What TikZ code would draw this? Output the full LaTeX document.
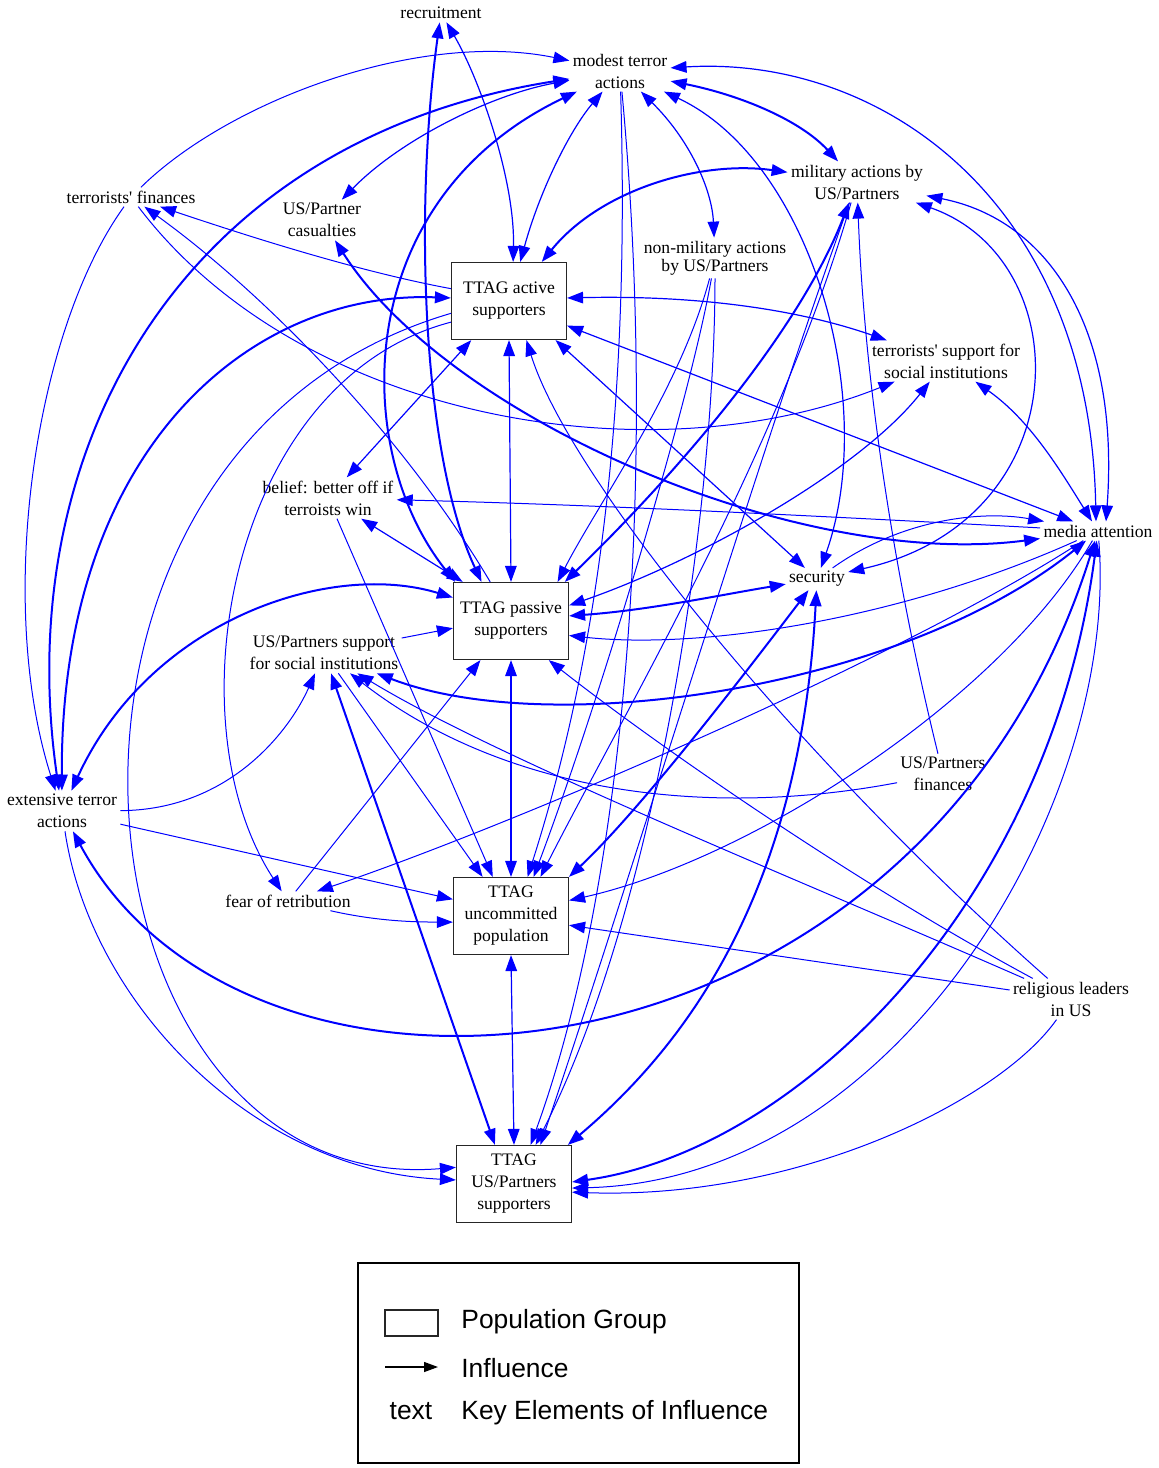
\documentclass[tikz,border=0pt]{standalone}
\usepackage{fontspec}
\setmainfont{Liberation Serif}
\newfontfamily\legendfont{Liberation Sans}
\usetikzlibrary{arrows.meta}

\tikzset{
  elem/.style={align=center, inner sep=1.5pt, font=\fontsize{8.8}{11}\selectfont},
  group/.style={elem, draw=black!85, line width=0.6pt, minimum width=57.5pt, minimum height=38.5pt, inner sep=0pt},
  infl/.style={draw=blue, line width=0.5pt, -{Triangle[length=8pt,width=5.8pt]}},
  mutual/.style={draw=blue, line width=0.6pt, {Triangle[length=8pt,width=5.8pt]}-{Triangle[length=8pt,width=5.8pt]}},
  heavy/.style={line width=1pt},
  lgtext/.style={inner sep=0pt, font=\legendfont\fontsize{13.2}{15}\selectfont}
}

\begin{document}
\begin{tikzpicture}[x=0.5pt,y=-0.5pt]
\useasboundingbox (0,0) rectangle (1159,1468);

% key elements of influence
\node[elem] (recruit) at (441,13) {recruitment};
\node[elem] (modest) at (620,71) {modest terror\\actions};
\node[elem] (milus) at (857,182) {military actions by\\US/Partners};
\node[elem] (tfin) at (131,197) {terrorists\textquotesingle{} finances};
\node[elem] (casual) at (322,220) {US/Partner\\casualties};
\node[elem] (nonmil) at (715,258) {non-military actions\\[-2pt]by US/Partners};
\node[elem] (tsoc) at (946,361) {terrorists\textquotesingle{} support for\\social institutions};
\node[elem] (belief) at (328,498) {belief: better off if\\terroists win};
\node[elem] (media) at (1098,531) {media attention};
\node[elem] (secur) at (817,579) {security};
\node[elem] (ussoc) at (324,653) {US/Partners support\\for social institutions};
\node[elem] (usfin) at (943,774) {US/Partners\\finances};
\node[elem] (ext) at (62,811) {extensive terror\\actions};
\node[elem] (fear) at (288,901) {fear of retribution};
\node[elem] (relig) at (1071,999) {religious leaders\\in US};

% population groups
\node[group] (active) at (509,301) {TTAG active\\supporters};
\node[group] (passive) at (511,621) {TTAG passive\\supporters};
\node[group] (uncomm) at (511,916) {TTAG\\uncommitted\\population};
\node[group] (ussup) at (514,1184) {TTAG\\US/Partners\\supporters};

% influences
\draw[infl] (tfin) .. controls (230,100) and (420,30) .. (modest);
\draw[mutual,heavy] (ext) .. controls (10,450) and (180,140) .. (modest);
\draw[mutual] (casual) .. controls (400,140) and (490,95) .. (modest);
\draw[mutual,heavy] (passive.145) .. controls (350,450) and (350,200) .. (modest);
\draw[mutual] (active.74) .. controls (540,190) and (570,130) .. (modest);
\draw[mutual,heavy] (recruit) .. controls (415,200) and (420,450) .. (passive.127);
\draw[mutual] (recruit) .. controls (480,80) and (515,180) .. (active.84);
\draw[infl] (modest) .. controls (630,400) and (600,650) .. (uncomm.67);
\draw[infl] (modest) .. controls (660,500) and (620,900) .. (ussup.67);
\draw[mutual] (modest) .. controls (690,140) and (712,190) .. (nonmil);
\draw[mutual] (modest) .. controls (810,160) and (880,400) .. (secur);
\draw[mutual,heavy] (modest) .. controls (740,95) and (800,120) .. (milus);
\draw[mutual] (modest) .. controls (880,55) and (1090,200) .. ([xshift=-1pt]media.north);

\draw[mutual,heavy] (active.50) .. controls (600,190) and (700,160) .. (milus);
\draw[mutual] (milus) .. controls (1050,220) and (1120,330) .. ([xshift=4pt]media.north);
\draw[mutual] (milus) .. controls (1080,260) and (1080,520) .. (secur);
\draw[mutual,heavy] (milus) .. controls (800,330) and (680,470) .. (passive.36);
\draw[infl] (usfin) .. controls (900,600) and (865,400) .. (milus);
\draw[infl] (milus) .. controls (780,450) and (620,720) .. (uncomm.53);
\draw[infl] (milus) .. controls (760,450) and (640,850) .. (ussup.56);

\draw[infl] (nonmil) .. controls (680,390) and (600,500) .. (passive.40);
\draw[infl] (nonmil) .. controls (690,400) and (600,700) .. (uncomm.60);
\draw[infl] (nonmil) .. controls (715,500) and (660,900) .. (ussup.61);

\draw[mutual] (active.3) .. controls (700,295) and (800,310) .. (tsoc);
\draw[mutual] (active.-23) -- (media);
\draw[mutual] (active.-40) -- (secur);
\draw[infl] (tfin) .. controls (300,420) and (650,480) .. (tsoc);
\draw[mutual] (tsoc) .. controls (860,470) and (700,560) .. (passive.15);
\draw[mutual] (tsoc) .. controls (1030,420) and (1060,470) .. (media);

\draw[infl] (active.168) .. controls (350,270) and (230,230) .. (tfin);
\draw[infl] (passive.118) .. controls (400,430) and (260,290) .. (tfin);
\draw[infl] (tfin) .. controls (35,330) and (-5,600) .. (ext);
\draw[mutual,heavy] (active.177) .. controls (250,290) and (60,450) .. (ext);
\draw[mutual,heavy] (ext) .. controls (150,620) and (330,560) .. (passive.158);
\draw[infl] (active.-168) .. controls (-15,450) and (60,1200) .. (ussup.164);
\draw[infl] (active.-160) .. controls (230,380) and (170,720) .. (fear);
\draw[mutual] (active.-134) -- (belief);
\draw[mutual] (active.south) -- (passive.north);
\draw[infl] (relig) .. controls (800,760) and (570,480) .. (active.-66);

\draw[mutual,heavy] (casual) .. controls (450,420) and (800,570) .. (media);
\draw[infl] (media) .. controls (800,515) and (600,505) .. (belief);
\draw[infl] (secur) .. controls (900,520) and (980,510) .. (media);
\draw[mutual,heavy] (passive.5) .. controls (650,610) and (720,595) .. (secur);
\draw[infl] (media) .. controls (900,620) and (700,650) .. (passive.-14);
\draw[mutual,heavy] (ussoc) .. controls (550,740) and (900,690) .. (media);
\draw[infl] (media) .. controls (900,660) and (500,830) .. (fear);
\draw[infl] (media) .. controls (1000,700) and (750,860) .. (uncomm.15);
\draw[mutual,heavy] (ext) .. controls (250,1160) and (920,1100) .. (media);
\draw[mutual,heavy] (media) .. controls (1050,900) and (800,1150) .. (ussup.2);
\draw[infl] (media) .. controls (1120,800) and (900,1180) .. (ussup.-4);

\draw[infl] (usfin) .. controls (700,820) and (500,790) .. (ussoc);
\draw[infl] (ussoc) -- (uncomm.126);
\draw[infl] (ussoc) -- (passive.187);
\draw[infl] (ext) .. controls (230,810) and (290,730) .. (ussoc);
\draw[mutual,heavy] (ussoc) -- (ussup.116);
\draw[infl] (ext) -- (uncomm.164.5);
\draw[infl] (ext) .. controls (90,1000) and (250,1170) .. (ussup.176);
\draw[infl] (fear) .. controls (380,922) and (420,922) .. (uncomm.186);
\draw[infl] (fear) -- (passive.-128);
\draw[mutual] (passive.south) -- (uncomm.north);
\draw[mutual] (uncomm.south) -- (ussup.north);
\draw[mutual] (belief) -- (passive.141);
\draw[infl] (belief) -- (uncomm.115);
\draw[mutual,heavy] (secur) .. controls (740,680) and (640,810) .. (uncomm.34);
\draw[mutual,heavy] (secur) .. controls (800,900) and (680,1050) .. (ussup.36);

\draw[infl] (relig) -- (uncomm.-9);
\draw[infl] (relig) .. controls (850,880) and (650,740) .. (passive.-46);
\draw[infl] (relig) .. controls (800,880) and (500,760) .. (ussoc);
\draw[infl] (relig) .. controls (1000,1100) and (800,1200) .. (ussup.-8);

% legend
\node[draw=black, line width=0.6pt, minimum width=220.5pt, minimum height=100pt, inner sep=0pt] (legend) at (578.5,1363) {};
\node[draw=black!85, line width=0.6pt, minimum width=26.5pt, minimum height=13pt, inner sep=0pt] (legrp) at (411.5,1323) {};
\coordinate (lga) at (385,1367);
\coordinate (lgb) at (438,1367);
\draw[black, line width=0.6pt, -{Triangle[length=7pt,width=5pt]}] (lga) -- (lgb);
\node[lgtext] (legtxt) at (411,1411) {text};
\node[lgtext, anchor=west] (lg1) at (461,1322) {Population Group};
\node[lgtext, anchor=west] (lg2) at (461,1368) {Influence};
\node[lgtext, anchor=west] (lg3) at (461,1413) {Key Elements of Influence};
\end{tikzpicture}
\end{document}
